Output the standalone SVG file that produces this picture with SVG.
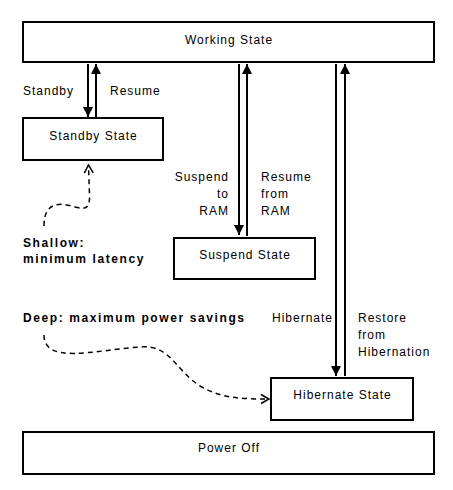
<svg xmlns="http://www.w3.org/2000/svg" width="453" height="490" viewBox="0 0 453 490">
<defs>
<style>
.box{fill:#fff;stroke:#000;stroke-width:2}
.t{font-family:"Liberation Sans",Arial,sans-serif;font-size:12px;letter-spacing:1px;fill:#000}
.b{font-weight:bold;letter-spacing:1.6px}
.c{text-anchor:middle}
.e{text-anchor:end}
.arr{stroke:#000;stroke-width:2;fill:none;marker-end:url(#ah)}
.dash{stroke:#000;stroke-width:1.5;fill:none;stroke-dasharray:5 4;marker-end:url(#oh)}
</style>
<marker id="ah" markerUnits="userSpaceOnUse" markerWidth="10" markerHeight="10" refX="10" refY="5" orient="auto" viewBox="0 0 10 10">
<path d="M0,0 L10,5 L0,10 z" fill="#000"/>
</marker>
<marker id="oh" markerUnits="userSpaceOnUse" markerWidth="12" markerHeight="12" refX="9" refY="5" orient="auto" viewBox="0 0 12 10">
<path d="M1,0.5 L9,5 L1,9.5" fill="none" stroke="#000" stroke-width="1.5"/>
</marker>
</defs>
<g id="working"><rect class="box" x="23" y="22" width="411" height="40"/><text class="t c" x="229" y="43.5">Working State</text></g>
<g id="standby"><rect class="box" x="23" y="118" width="140" height="42"/><text class="t c" x="93.5" y="140">Standby State</text></g>
<g id="suspend"><rect class="box" x="174" y="238" width="141" height="41"/><text class="t c" x="245" y="259">Suspend State</text></g>
<g id="hibernate"><rect class="box" x="271" y="378" width="142" height="42"/><text class="t c" x="342.5" y="399">Hibernate State</text></g>
<g id="poweroff"><rect class="box" x="23" y="432" width="411" height="42"/><text class="t c" x="229" y="452">Power Off</text></g>
<g id="connectors">
<path class="arr" d="M88,64 L88,117"/>
<path class="arr" d="M96,117 L96,64"/>
<path class="arr" d="M239,64 L239,235"/>
<path class="arr" d="M247,236 L247,64"/>
<path class="arr" d="M336,64 L336,376"/>
<path class="arr" d="M345,376 L345,64"/>
<path class="dash" d="M44,226 C44,200 62,203 75,207 C86,210 90,208 89.5,195 L88.5,165"/>
<path class="dash" d="M44,335 C44,365 95,350 140,347 C170,344 175,370 200,386 C220,398 240,399 269,399"/>
</g>
<g id="labels">
<text class="t" x="23" y="95">Standby</text>
<text class="t" x="110" y="95">Resume</text>
<text class="t e" x="229" y="181">Suspend</text>
<text class="t e" x="229" y="198">to</text>
<text class="t e" x="229" y="215">RAM</text>
<text class="t" x="261" y="181">Resume</text>
<text class="t" x="261" y="198">from</text>
<text class="t" x="261" y="215">RAM</text>
<text class="t e" x="333" y="322">Hibernate</text>
<text class="t" x="358" y="322">Restore</text>
<text class="t" x="358" y="339">from</text>
<text class="t" x="358" y="356">Hibernation</text>
<text class="t b" x="23" y="247">Shallow:</text>
<text class="t b" x="23" y="263">minimum latency</text>
<text class="t b" x="23" y="322">Deep: maximum power savings</text>
</g>
</svg>
